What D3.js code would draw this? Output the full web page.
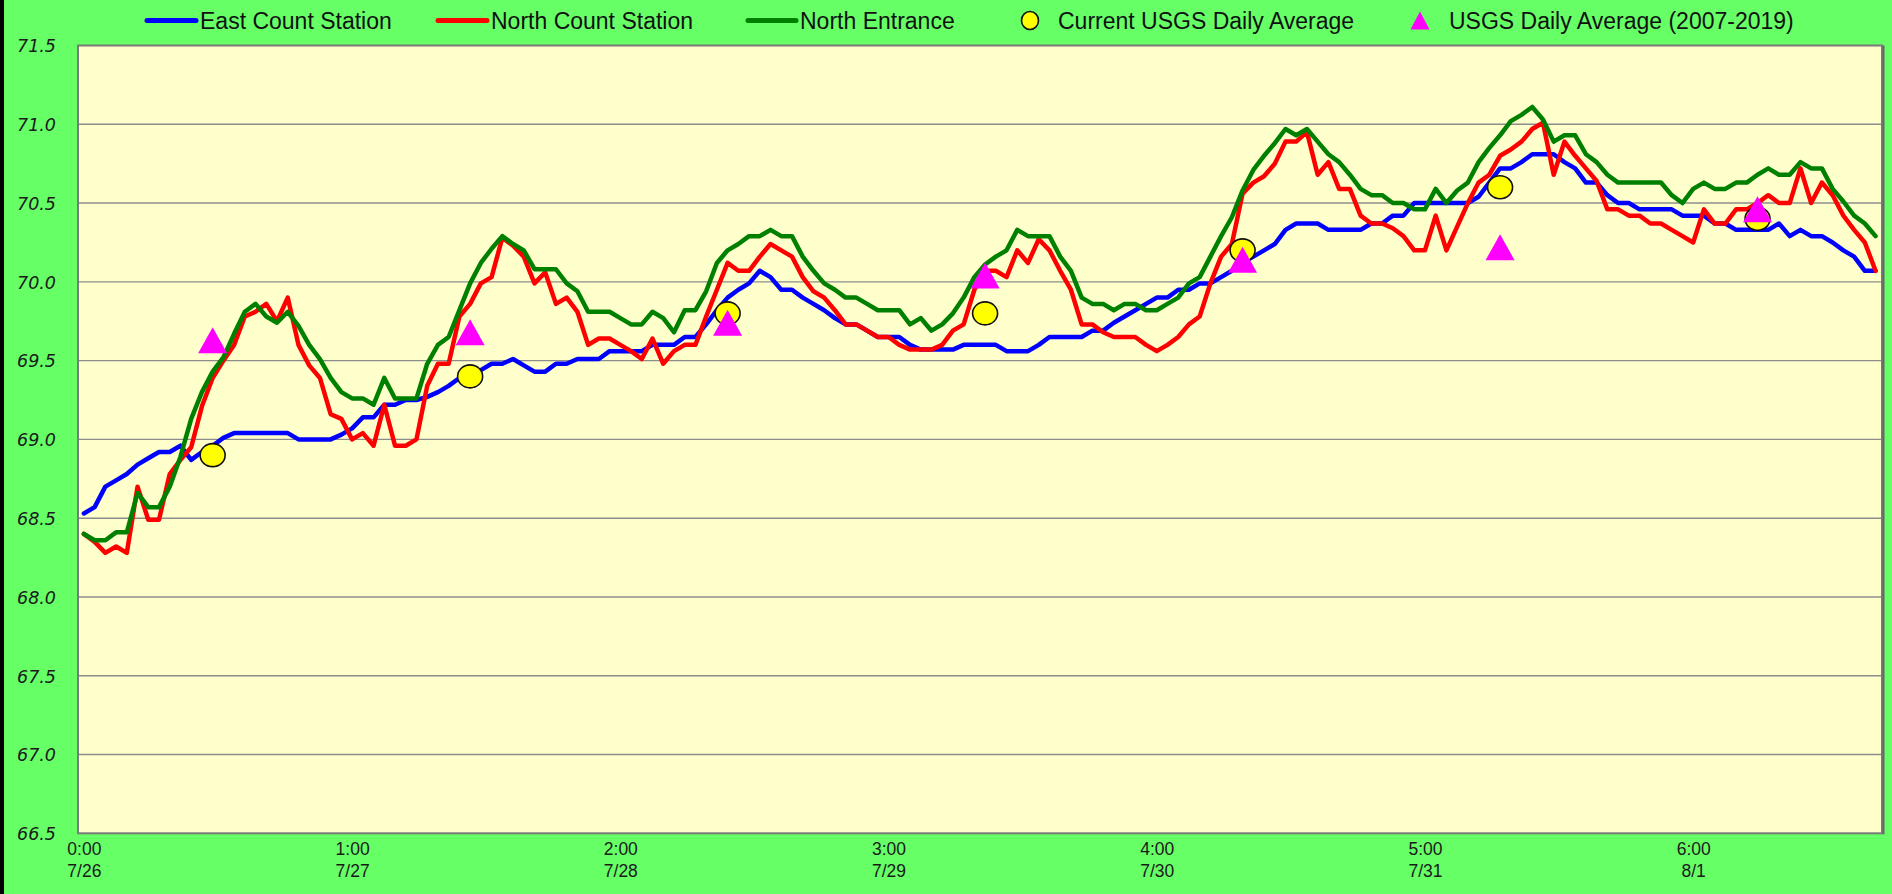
<!DOCTYPE html>
<html>
<head>
<meta charset="utf-8">
<script src="https://cdn.jsdelivr.net/npm/d3@7"></script>
<style>
  html, body { margin: 0; padding: 0; background: #66FF66; }
  svg { display: block; }
</style>
</head>
<body>
<svg id="chart" width="1892" height="894"></svg>
<script>
// ---------------- DATA ----------------
// Hourly readings starting 7/26 0:00 (index = hour)
const eastCountStation = [
  68.53,68.57,68.70,68.74,68.78,68.84,68.88,68.92,68.92,68.96,68.87,68.92,68.96,69.01,69.04,69.04,69.04,69.04,69.04,69.04,69.00,69.00,69.00,69.00,
  69.03,69.07,69.14,69.14,69.22,69.22,69.25,69.25,69.27,69.30,69.34,69.39,69.41,69.44,69.48,69.48,69.51,69.47,69.43,69.43,69.48,69.48,69.51,69.51,
  69.51,69.56,69.56,69.56,69.56,69.60,69.60,69.60,69.65,69.65,69.73,69.82,69.90,69.95,69.99,70.07,70.03,69.95,69.95,69.90,69.86,69.82,69.77,69.73,
  69.73,69.69,69.65,69.65,69.65,69.60,69.57,69.57,69.57,69.57,69.60,69.60,69.60,69.60,69.56,69.56,69.56,69.60,69.65,69.65,69.65,69.65,69.69,69.69,
  69.74,69.78,69.82,69.86,69.90,69.90,69.95,69.95,69.99,69.99,70.03,70.07,70.12,70.16,70.20,70.24,70.33,70.37,70.37,70.37,70.33,70.33,70.33,70.33,
  70.37,70.37,70.42,70.42,70.50,70.50,70.50,70.50,70.50,70.50,70.54,70.63,70.72,70.72,70.76,70.81,70.81,70.81,70.76,70.72,70.63,70.63,70.55,70.50,
  70.50,70.46,70.46,70.46,70.46,70.42,70.42,70.42,70.37,70.37,70.33,70.33,70.33,70.33,70.37,70.29,70.33,70.29,70.29,70.25,70.20,70.16,70.07,70.07
];
const northCountStation = [
  68.40,68.35,68.28,68.32,68.28,68.70,68.49,68.49,68.78,68.87,68.95,69.21,69.39,69.50,69.60,69.78,69.81,69.86,69.75,69.90,69.60,69.47,69.39,69.16,
  69.13,69.00,69.04,68.96,69.22,68.96,68.96,69.00,69.34,69.48,69.48,69.78,69.86,69.99,70.03,70.28,70.23,70.16,69.99,70.06,69.86,69.90,69.81,69.60,
  69.64,69.64,69.60,69.56,69.51,69.64,69.48,69.56,69.60,69.60,69.78,69.95,70.12,70.07,70.07,70.16,70.24,70.20,70.16,70.03,69.94,69.90,69.82,69.73,
  69.73,69.69,69.65,69.65,69.60,69.57,69.57,69.57,69.60,69.69,69.73,69.95,70.07,70.07,70.03,70.20,70.12,70.27,70.20,70.07,69.95,69.73,69.73,69.68,
  69.65,69.65,69.65,69.60,69.56,69.60,69.65,69.73,69.78,69.99,70.16,70.24,70.56,70.63,70.67,70.75,70.89,70.89,70.95,70.68,70.76,70.59,70.59,70.42,
  70.37,70.37,70.34,70.29,70.20,70.20,70.42,70.20,70.35,70.50,70.63,70.68,70.80,70.84,70.89,70.97,71.01,70.68,70.89,70.80,70.72,70.64,70.46,70.46,
  70.42,70.42,70.37,70.37,70.33,70.29,70.25,70.46,70.37,70.37,70.46,70.46,70.50,70.55,70.50,70.50,70.72,70.50,70.63,70.55,70.42,70.33,70.25,70.07
];
const northEntrance = [
  68.40,68.36,68.36,68.41,68.41,68.66,68.57,68.57,68.70,68.89,69.13,69.30,69.43,69.52,69.67,69.81,69.86,69.78,69.74,69.81,69.72,69.60,69.51,69.39,
  69.30,69.26,69.26,69.22,69.39,69.26,69.26,69.26,69.48,69.60,69.65,69.82,69.99,70.12,70.21,70.29,70.24,70.20,70.08,70.08,70.08,69.99,69.94,69.81,
  69.81,69.81,69.77,69.73,69.73,69.81,69.77,69.68,69.82,69.82,69.94,70.12,70.20,70.24,70.29,70.29,70.33,70.29,70.29,70.16,70.07,69.99,69.95,69.90,
  69.90,69.86,69.82,69.82,69.82,69.73,69.77,69.69,69.73,69.80,69.90,70.03,70.11,70.16,70.20,70.33,70.29,70.29,70.29,70.16,70.07,69.90,69.86,69.86,
  69.82,69.86,69.86,69.82,69.82,69.86,69.90,69.99,70.03,70.16,70.29,70.41,70.58,70.71,70.80,70.88,70.97,70.93,70.97,70.89,70.81,70.76,70.68,70.59,
  70.55,70.55,70.50,70.50,70.46,70.46,70.59,70.50,70.58,70.63,70.76,70.85,70.93,71.02,71.06,71.11,71.03,70.89,70.93,70.93,70.81,70.76,70.68,70.63,
  70.63,70.63,70.63,70.63,70.55,70.50,70.59,70.63,70.59,70.59,70.63,70.63,70.68,70.72,70.68,70.68,70.76,70.72,70.72,70.59,70.51,70.42,70.37,70.29
];
// Daily averages (placed at noon of each day, hour index)
const dailyHours = [12, 36, 60, 84, 108, 132, 156];
const currentUSGSDaily = [68.90, 69.40, 69.80, 69.80, 70.20, 70.60, 70.40];
const usgsDaily2007_2019 = [69.63, 69.68, 69.74, 70.04, 70.14, 70.22, 70.46];

// Axis ticks
const yTicks = [66.5, 67.0, 67.5, 68.0, 68.5, 69.0, 69.5, 70.0, 70.5, 71.0, 71.5];
const xTickHours = [0, 25, 50, 75, 100, 125, 150];
const xTickTimes = ["0:00", "1:00", "2:00", "3:00", "4:00", "5:00", "6:00"];
const xTickDates = ["7/26", "7/27", "7/28", "7/29", "7/30", "7/31", "8/1"];

const seriesNames = ["East Count Station", "North Count Station", "North Entrance",
                     "Current USGS Daily Average", "USGS Daily Average (2007-2019)"];

// ---------------- LAYOUT ----------------
const W = 1892, H = 894;
const plot = { left: 78, top: 45.5, right: 1882, bottom: 833.3 };
const svg = d3.select("#chart");

svg.append("rect").attr("x", 0).attr("y", 0).attr("width", W).attr("height", H).attr("fill", "#66FF66");
svg.append("rect").attr("x", 0).attr("y", 0).attr("width", 4).attr("height", H).attr("fill", "#000");

const x = d3.scaleLinear().domain([-0.55, 167.6]).range([plot.left, plot.right]);
const y = d3.scaleLinear().domain([66.5, 71.5]).range([plot.bottom, plot.top]);

// plot background
svg.append("rect")
  .attr("x", plot.left).attr("y", plot.top)
  .attr("width", plot.right - plot.left).attr("height", plot.bottom - plot.top)
  .attr("fill", "#FFFFCC");

// gridlines
svg.append("g").selectAll("line")
  .data(yTicks.filter(t => t > 66.5 && t < 71.5))
  .join("line")
  .attr("x1", plot.left).attr("x2", plot.right)
  .attr("y1", d => y(d)).attr("y2", d => y(d))
  .attr("stroke", "#8c8c8c").attr("stroke-width", 1.4);

// plot border
svg.append("rect")
  .attr("x", plot.left).attr("y", plot.top)
  .attr("width", plot.right - plot.left).attr("height", plot.bottom - plot.top)
  .attr("fill", "none").attr("stroke", "#7a7a7a").attr("stroke-width", 2);
svg.append("line")
  .attr("x1", plot.right + 1.5).attr("x2", plot.right + 1.5)
  .attr("y1", plot.top).attr("y2", plot.bottom + 1)
  .attr("stroke", "#666").attr("stroke-width", 2);

// Y axis
const yAxis = d3.axisLeft(y).tickValues(yTicks).tickFormat(d3.format(".1f")).tickSize(0).tickPadding(0);
const gy = svg.append("g").attr("transform", `translate(56,0)`).call(yAxis);
gy.select(".domain").remove();
gy.selectAll("text")
  .attr("font-family", "'DejaVu Sans', Verdana, sans-serif")
  .attr("font-style", "italic")
  .attr("font-size", 17.5)
  .attr("fill", "#1a1a1a")
  .attr("dy", "0.36em");

// X axis (two-line labels)
const xAxis = d3.axisBottom(x).tickValues(xTickHours).tickFormat(() => "").tickSize(0);
const gx = svg.append("g").attr("transform", `translate(0,${plot.bottom})`).call(xAxis);
gx.select(".domain").remove();
gx.selectAll(".tick").each(function(d, i) {
  const t = d3.select(this).select("text");
  t.attr("font-family", "'Liberation Sans', Arial, sans-serif")
   .attr("font-size", 17.5)
   .attr("fill", "#1a1a1a")
   .attr("y", 0).attr("dy", null);
  t.append("tspan").attr("x", 0).attr("y", 22).text(xTickTimes[i]);
  t.append("tspan").attr("x", 0).attr("y", 44).text(xTickDates[i]);
});

// Lines
const lineGen = d3.line().x((d, i) => x(i)).y(d => y(d));
const lineSeries = [
  { data: eastCountStation, color: "#0000FF" },
  { data: northCountStation, color: "#FF0000" },
  { data: northEntrance, color: "#008000" }
];
svg.append("g").selectAll("path")
  .data(lineSeries)
  .join("path")
  .attr("d", d => lineGen(d.data))
  .attr("fill", "none")
  .attr("stroke", d => d.color)
  .attr("stroke-width", 4.5)
  .attr("stroke-linejoin", "round")
  .attr("stroke-linecap", "round");

// Markers: circles
svg.append("g").selectAll("ellipse")
  .data(currentUSGSDaily)
  .join("ellipse")
  .attr("cx", (d, i) => x(dailyHours[i]))
  .attr("cy", d => y(d))
  .attr("rx", 12.5).attr("ry", 11.5)
  .attr("fill", "#FFFF00").attr("stroke", "#111").attr("stroke-width", 1.6);

// Markers: triangles
function triPath(cx, cy, w, h) {
  return `M${cx},${cy - h / 2}L${cx + w / 2},${cy + h / 2}L${cx - w / 2},${cy + h / 2}Z`;
}
svg.append("g").selectAll("path")
  .data(usgsDaily2007_2019)
  .join("path")
  .attr("d", (d, i) => triPath(x(dailyHours[i]), y(d), 29, 26))
  .attr("fill", "#FF00FF");

// Legend
const legY = 20.5;
const legendItems = [
  { type: "line", color: "#0000FF", x0: 147, x1: 196, tx: 200 },
  { type: "line", color: "#FF0000", x0: 438, x1: 487, tx: 491 },
  { type: "line", color: "#008000", x0: 748, x1: 796, tx: 800 },
  { type: "circle", cx: 1030, tx: 1058 },
  { type: "tri", cx: 1420, tx: 1449 }
];
const lg = svg.append("g");
legendItems.forEach((it, i) => {
  if (it.type === "line") {
    lg.append("line").attr("x1", it.x0).attr("x2", it.x1).attr("y1", legY).attr("y2", legY)
      .attr("stroke", it.color).attr("stroke-width", 5).attr("stroke-linecap", "round");
  } else if (it.type === "circle") {
    lg.append("ellipse").attr("cx", it.cx).attr("cy", legY).attr("rx", 8.5).attr("ry", 9)
      .attr("fill", "#FFFF00").attr("stroke", "#111").attr("stroke-width", 1.6);
  } else {
    lg.append("path").attr("d", triPath(it.cx, legY, 19, 18)).attr("fill", "#FF00FF");
  }
  lg.append("text").attr("x", it.tx).attr("y", legY).attr("dy", "0.36em")
    .attr("font-family", "'Liberation Sans', Arial, sans-serif")
    .attr("font-size", 23).attr("fill", "#111")
    .text(seriesNames[i]);
});
</script>
</body>
</html>
